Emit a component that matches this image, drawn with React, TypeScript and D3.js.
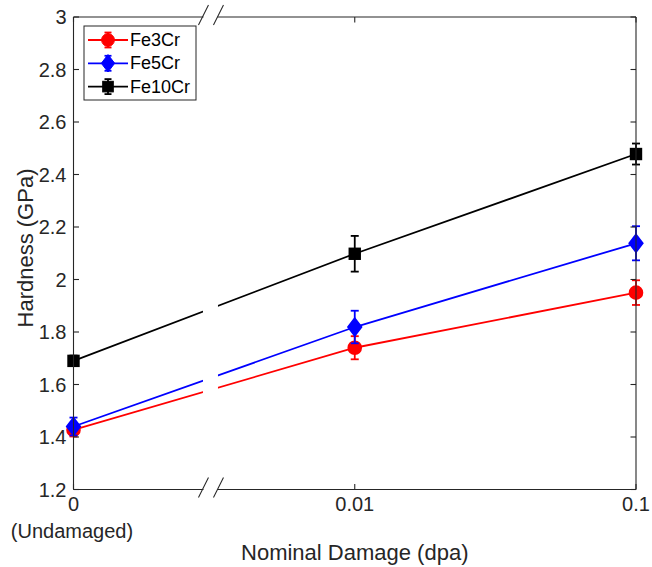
import React from "react";
import * as d3 from "d3";

const damageLabels = ["0", "0.01", "0.1"];
const yTickValues = [1.2, 1.4, 1.6, 1.8, 2.0, 2.2, 2.4, 2.6, 2.8, 3.0];

const fe3Cr = [1.427, 1.740, 1.950];
const fe3CrErr = [0.025, 0.044, 0.047];
const fe5Cr = [1.440, 1.819, 2.138];
const fe5CrErr = [0.034, 0.062, 0.065];
const fe10Cr = [1.690, 2.098, 2.478];
const fe10CrErr = [0.020, 0.068, 0.040];

const seriesNames = ["Fe3Cr", "Fe5Cr", "Fe10Cr"];
const seriesColors = ["#ff0000", "#0000ff", "#000000"];
const seriesMarkers = ["circle", "diamond", "square"];

const W = 652;
const H = 567;
const L = 73.5;
const R = 636;
const T = 17;
const B = 489.5;
const BREAK_INDEX = 0.487;
const FONT = "'Liberation Sans', Arial, Helvetica, sans-serif";
const AX = "#262626";

function Marker({ type, x, y, color }: { type: string; x: number; y: number; color: string }) {
  if (type === "circle") return <circle cx={x} cy={y} r={6.4} fill={color} stroke={color} />;
  if (type === "diamond")
    return <path d={`M${x},${y - 8.7}L${x + 6.7},${y}L${x},${y + 8.7}L${x - 6.7},${y}Z`} fill={color} stroke={color} />;
  return <rect x={x - 5.3} y={y - 5.3} width={10.6} height={10.6} fill={color} stroke={color} />;
}

export default function App() {
  const x = d3.scaleLinear().domain([0, damageLabels.length - 1]).range([L, R]);
  const y = d3.scaleLinear().domain([1.2, 3.0]).range([B, T]);
  const bx = x(BREAK_INDEX);

  const series = [
    { v: fe3Cr, e: fe3CrErr },
    { v: fe5Cr, e: fe5CrErr },
    { v: fe10Cr, e: fe10CrErr },
  ];
  const line = d3
    .line<number>()
    .x((_, i) => x(i))
    .y((d) => y(d));

  const tickLen = 5.5;
  const fmt = (v: number) => String(+v.toFixed(1));

  return (
    <svg
      width={W}
      height={H}
      style={{ position: "absolute", left: 0, top: 0, background: "#fff" }}
      fontFamily={FONT}
    >
      <rect x={0} y={0} width={W} height={H} fill="#fff" />
      {/* data */}
      {series.map((s, si) => (
        <g key={si}>
          <path d={line(s.v) || ""} fill="none" stroke={seriesColors[si]} strokeWidth={1.8} />
        </g>
      ))}
      {/* break gap in data lines */}
      <rect x={bx - 7.5} y={T + 1} width={15} height={B - T - 2} fill="#fff" />
      {series.map((s, si) => (
        <g key={"m" + si}>
          {s.v.map((v, i) => {
            const cx = x(i);
            const y1 = y(v + s.e[i]);
            const y2 = y(v - s.e[i]);
            return (
              <g key={i} stroke={seriesColors[si]} strokeWidth={1.8}>
                <line x1={cx} x2={cx} y1={y1} y2={y2} />
                <line x1={cx - 4} x2={cx + 4} y1={y1} y2={y1} />
                <line x1={cx - 4} x2={cx + 4} y1={y2} y2={y2} />
                <Marker type={seriesMarkers[si]} x={cx} y={y(v)} color={seriesColors[si]} />
              </g>
            );
          })}
        </g>
      ))}

      {/* axes */}
      <g stroke={AX} strokeWidth={1.1} fill="none">
        <line x1={L} x2={L} y1={T} y2={B} />
        <line x1={R} x2={R} y1={T} y2={B} />
        <line x1={L} x2={bx - 7} y1={T} y2={T} />
        <line x1={bx + 7} x2={R} y1={T} y2={T} />
        <line x1={L} x2={bx - 7} y1={B} y2={B} />
        <line x1={bx + 7} x2={R} y1={B} y2={B} />
        {/* break marks */}
        <line x1={bx - 12} y1={T + 8} x2={bx - 2} y2={T - 12} />
        <line x1={bx + 3} y1={T + 8} x2={bx + 13} y2={T - 12} />
        <line x1={bx - 12} y1={B + 8} x2={bx - 2} y2={B - 12} />
        <line x1={bx + 3} y1={B + 8} x2={bx + 13} y2={B - 12} />
        {yTickValues.map((v, i) => (
          <g key={i}>
            <line x1={L} x2={L + tickLen} y1={y(v)} y2={y(v)} />
            <line x1={R} x2={R - tickLen} y1={y(v)} y2={y(v)} />
          </g>
        ))}
        {damageLabels.map((_, i) => (
          <g key={i}>
            <line x1={x(i)} x2={x(i)} y1={B} y2={B - tickLen} />
            <line x1={x(i)} x2={x(i)} y1={T} y2={T + tickLen} />
          </g>
        ))}
      </g>

      {/* tick labels */}
      <g fill={AX} fontSize={20}>
        {yTickValues.map((v, i) => (
          <text key={i} x={L - 7} y={y(v)} textAnchor="end" dominantBaseline="central">
            {fmt(v)}
          </text>
        ))}
        {damageLabels.map((lab, i) => (
          <text key={i} x={x(i)} y={B + 21} textAnchor="middle">
            {lab}
          </text>
        ))}
        <text x={x(0) - 1.5} y={B + 48} textAnchor="middle">
          (Undamaged)
        </text>
      </g>

      {/* axis labels */}
      <text x={(L + R) / 2} y={560} textAnchor="middle" fontSize={22} fill={AX}>
        Nominal Damage (dpa)
      </text>
      <text
        transform={`translate(25, 248) rotate(-90)`}
        textAnchor="middle"
        dominantBaseline="central"
        fontSize={22}
        fill={AX}
      >
        Hardness (GPa)
      </text>

      {/* legend */}
      <g>
        <rect x={84} y={26} width={112} height={74} fill="#fff" stroke={AX} strokeWidth={1} />
        {seriesNames.map((name, i) => {
          const ly = 40 + i * 23.3;
          const c = seriesColors[i];
          return (
            <g key={name}>
              <g stroke={c} strokeWidth={1.8}>
                <line x1={88} x2={128} y1={ly} y2={ly} />
                <line x1={108} x2={108} y1={ly - 7.5} y2={ly + 7.5} />
                <line x1={104.5} x2={111.5} y1={ly - 7.5} y2={ly - 7.5} />
                <line x1={104.5} x2={111.5} y1={ly + 7.5} y2={ly + 7.5} />
              </g>
              <Marker type={seriesMarkers[i]} x={108} y={ly} color={c} />
              <text x={130} y={ly} dominantBaseline="central" fontSize={18} fill="#000">
                {name}
              </text>
            </g>
          );
        })}
      </g>
    </svg>
  );
}
